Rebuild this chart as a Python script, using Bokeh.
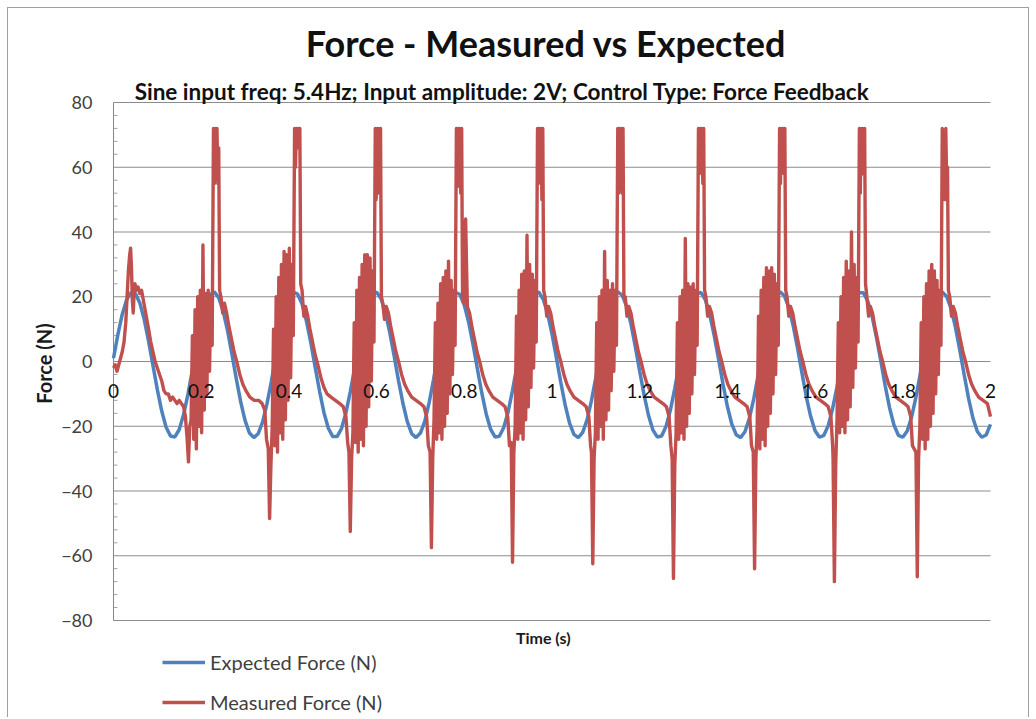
from bokeh.plotting import figure
from bokeh.models import Range1d, FixedTicker, Label, Legend, LegendItem
from bokeh.embed import file_html
from bokeh.resources import INLINE

FONT = "Lato"

# ---------------- data ----------------
title_text = "Force - Measured vs Expected"
subtitle_text = "Sine input freq: 5.4Hz; Input amplitude: 2V; Control Type: Force Feedback"
x_title = "Time (s)"
y_title = "Force (N)"
series_names = ["Expected Force (N)", "Measured Force (N)"]

x_ticks = [0, 0.2, 0.4, 0.6, 0.8, 1.0, 1.2, 1.4, 1.6, 1.8, 2.0]
x_tick_labels = ["0", "0.2", "0.4", "0.6", "0.8", "1", "1.2", "1.4", "1.6", "1.8", "2"]
y_ticks = [-80, -60, -40, -20, 0, 20, 40, 60, 80]

# expected force, sampled every 0.01 s from t = 0 to 2 s
expected_dt = 0.01
expected_v = [
    1.0, 8.3, 14.6, 19.1, 21.3, 21.0, 18.1, 13.0, 6.3, -1.2,
    -8.7, -15.3, -20.3, -23.0, -23.3, -21.0, -16.3, -10.0, -2.6, 5.0,
    11.9, 17.3, 20.6, 21.5, 19.7, 15.6, 9.6, 2.3, -5.3, -12.4,
    -18.2, -22.1, -23.5, -22.3, -18.7, -13.1, -6.1, 1.5, 8.9, 15.0,
    19.4, 21.4, 20.8, 17.8, 12.5, 5.8, -1.8, -9.2, -15.8, -20.6,
    -23.2, -23.2, -20.7, -15.9, -9.4, -2.0, 5.6, 12.4, 17.7, 20.8,
    21.4, 19.5, 15.2, 9.0, 1.7, -5.9, -12.9, -18.6, -22.3, -23.5,
    -22.1, -18.4, -12.6, -5.5, 2.1, 9.4, 15.5, 19.6, 21.4, 20.7,
    17.4, 12.1, 5.2, -2.4, -9.8, -16.2, -20.9, -23.3, -23.1, -20.4,
    -15.5, -8.9, -1.4, 6.1, 12.9, 18.0, 20.9, 21.4, 19.2, 14.8,
    8.5, 1.2, -6.4, -13.4, -19.0, -22.5, -23.5, -21.9, -18.0, -12.1,
    -4.9, 2.7, 9.9, 15.9, 19.9, 21.5, 20.5, 17.1, 11.6, 4.6,
    -3.0, -10.3, -16.6, -21.1, -23.3, -23.0, -20.1, -15.0, -8.3, -0.8,
    6.7, 13.3, 18.3, 21.0, 21.3, 19.0, 14.3, 8.0, 0.6, -7.0,
    -13.9, -19.3, -22.6, -23.5, -21.7, -17.6, -11.6, -4.3, 3.3, 10.4,
    16.2, 20.1, 21.5, 20.3, 16.7, 11.1, 4.1, -3.5, -10.9, -17.0,
    -21.4, -23.4, -22.8, -19.8, -14.5, -7.8, -0.2, 7.2, 13.8, 18.6,
    21.2, 21.2, 18.7, 13.9, 7.4, 0.0, -7.6, -14.4, -19.7, -22.8,
    -23.4, -21.5, -17.2, -11.0, -3.7, 3.9, 10.9, 16.6, 20.3, 21.5,
    20.1, 16.4, 10.6, 3.5, -4.1, -11.4, -17.5, -21.6, -23.4, -22.7,
    -19.4,
]
expected_t = [round(i * expected_dt, 3) for i in range(len(expected_v))]

# measured force (time in s, force in N), one block per cycle
measured_t = [
    0.000, 0.004, 0.008, 0.012, 0.016, 0.020, 0.024, 0.028, 0.031, 0.034, 0.037, 0.039, 0.041, 0.043, 0.045, 0.047, 0.049,
    0.052, 0.056, 0.060, 0.064, 0.068, 0.072, 0.076, 0.080, 0.085, 0.090, 0.095, 0.100, 0.105, 0.110, 0.115, 0.120, 0.125,
    0.130, 0.135, 0.140, 0.145, 0.150, 0.155, 0.160, 0.164,
    0.168, 0.171, 0.174, 0.177, 0.180, 0.183, 0.186, 0.189, 0.192, 0.195, 0.198, 0.201, 0.204, 0.207, 0.210, 0.213, 0.216, 0.219, 0.222, 0.225,
    0.228, 0.230, 0.232, 0.234, 0.236, 0.238, 0.240, 0.242,
    0.245, 0.249, 0.253, 0.258, 0.263, 0.269, 0.275, 0.281, 0.288, 0.295, 0.302, 0.311, 0.321, 0.331, 0.339, 0.345, 0.349,
    0.353, 0.356, 0.359, 0.362, 0.365, 0.368, 0.371, 0.374, 0.377, 0.380, 0.383, 0.386, 0.389, 0.392, 0.395, 0.398, 0.401, 0.404, 0.407, 0.410,
    0.413, 0.415, 0.417, 0.419, 0.421, 0.423, 0.425, 0.427,
    0.430, 0.434, 0.438, 0.443, 0.448, 0.454, 0.460, 0.466, 0.473, 0.480, 0.487, 0.496, 0.506, 0.516, 0.524, 0.530, 0.534,
    0.537, 0.540, 0.543, 0.546, 0.549, 0.552, 0.555, 0.558, 0.561, 0.564, 0.567, 0.570, 0.573, 0.576, 0.579, 0.582, 0.585, 0.588, 0.591, 0.594,
    0.597, 0.599, 0.601, 0.603, 0.605, 0.607, 0.609, 0.611,
    0.614, 0.618, 0.622, 0.627, 0.632, 0.638, 0.644, 0.650, 0.657, 0.664, 0.671, 0.680, 0.690, 0.700, 0.708, 0.714, 0.718,
    0.722, 0.725, 0.728, 0.731, 0.734, 0.737, 0.740, 0.743, 0.746, 0.749, 0.752, 0.755, 0.758, 0.761, 0.764, 0.767, 0.770, 0.773, 0.776, 0.779,
    0.782, 0.784, 0.786, 0.788, 0.790, 0.792, 0.794, 0.796,
    0.799, 0.803, 0.807, 0.812, 0.817, 0.823, 0.829, 0.835, 0.842, 0.849, 0.856, 0.865, 0.875, 0.885, 0.893, 0.899, 0.903,
    0.907, 0.910, 0.913, 0.916, 0.919, 0.922, 0.925, 0.928, 0.931, 0.934, 0.937, 0.940, 0.943, 0.946, 0.949, 0.952, 0.955, 0.958, 0.961, 0.964,
    0.967, 0.969, 0.971, 0.973, 0.975, 0.977, 0.979, 0.981,
    0.984, 0.988, 0.992, 0.997, 1.002, 1.008, 1.014, 1.020, 1.027, 1.034, 1.041, 1.050, 1.060, 1.070, 1.078, 1.084, 1.088,
    1.090, 1.093, 1.096, 1.099, 1.102, 1.105, 1.108, 1.111, 1.114, 1.117, 1.120, 1.123, 1.126, 1.129, 1.132, 1.135, 1.138, 1.141, 1.144, 1.147,
    1.150, 1.152, 1.154, 1.156, 1.158, 1.160, 1.162, 1.164,
    1.167, 1.171, 1.175, 1.180, 1.185, 1.191, 1.197, 1.203, 1.210, 1.217, 1.224, 1.233, 1.243, 1.253, 1.261, 1.267, 1.271,
    1.274, 1.277, 1.280, 1.283, 1.286, 1.289, 1.292, 1.295, 1.298, 1.301, 1.304, 1.307, 1.310, 1.313, 1.316, 1.319, 1.322, 1.325, 1.328, 1.331,
    1.334, 1.336, 1.338, 1.340, 1.342, 1.344, 1.346, 1.348,
    1.351, 1.355, 1.359, 1.364, 1.369, 1.375, 1.381, 1.387, 1.394, 1.401, 1.408, 1.417, 1.427, 1.437, 1.445, 1.451, 1.455,
    1.459, 1.462, 1.465, 1.468, 1.471, 1.474, 1.477, 1.480, 1.483, 1.486, 1.489, 1.492, 1.495, 1.498, 1.501, 1.504, 1.507, 1.510, 1.513, 1.516,
    1.519, 1.521, 1.523, 1.525, 1.527, 1.529, 1.531, 1.533,
    1.536, 1.540, 1.544, 1.549, 1.554, 1.560, 1.566, 1.572, 1.579, 1.586, 1.593, 1.602, 1.612, 1.622, 1.630, 1.636, 1.640,
    1.641, 1.644, 1.647, 1.650, 1.653, 1.656, 1.659, 1.662, 1.665, 1.668, 1.671, 1.674, 1.677, 1.680, 1.683, 1.686, 1.689, 1.692, 1.695, 1.698,
    1.701, 1.703, 1.705, 1.707, 1.709, 1.711, 1.713, 1.715,
    1.718, 1.722, 1.726, 1.731, 1.736, 1.742, 1.748, 1.754, 1.761, 1.768, 1.775, 1.784, 1.794, 1.804, 1.812, 1.818, 1.822,
    1.830, 1.833, 1.836, 1.839, 1.842, 1.845, 1.848, 1.851, 1.854, 1.857, 1.860, 1.863, 1.866, 1.869, 1.872, 1.875, 1.878, 1.881, 1.884, 1.887,
    1.890, 1.892, 1.894, 1.896, 1.898, 1.900, 1.902, 1.904,
    1.907, 1.911, 1.915, 1.920, 1.925, 1.931, 1.937, 1.943, 1.950, 1.957, 1.964, 1.973, 1.983, 1.993, 2.000,
]
measured_v = [
    -2, -1, -3, -1, 1, 3, 6, 12, 20, 28, 33, 35, 29, 19, 15, 21, 24,
    22, 23, 21, 22, 19, 16, 13, 10, 6, 3, 0, -2, -4, -6, -9, -10, -10,
    -12, -11, -12, -13, -12, -13, -14, -17,
    -24, -31, -20, -18, 8, -24, 16, -27, 20, -20, 22, -22, 36, -15, 21, -10, 22, -3, 20, 5,
    72, 55, 72, 58, 72, 55, 66, 22,
    20, 15, 18, 15, 11, 7, 3, 0, -4, -7, -9, -11, -12, -12, -13, -15, -24,
    -27, -48.5, -32, -20, 10, -26, 20, -28, 26, -22, 30, -24, 34, -18, 33, -12, 35, -5, 30, 8,
    72, 60, 72, 66, 72, 68, 72, 24,
    22, 14, 17, 14, 10, 6, 2, -1, -5, -8, -10, -11, -12, -13, -14, -17, -25,
    -28, -52.5, -30, -22, 12, -25, 22, -28, 26, -24, 30, -26, 33, -20, 33, -14, 32, -6, 28, 6,
    72, 50, 72, 52, 72, 55, 72, 20,
    18, 13, 17, 15, 11, 7, 3, 0, -4, -7, -9, -11, -12, -13, -14, -17, -26,
    -28, -57.5, -30, -18, 12, -24, 18, -22, 24, -24, 26, -20, 28, -16, 31, -10, 25, -4, 22, 5,
    72, 54, 72, 58, 72, 52, 72, 20,
    18, 44, 17, 15, 11, 7, 3, 0, -4, -7, -9, -11, -12, -13, -14, -17, -26,
    -25, -62, -28, -20, 14, -24, 22, -22, 27, -24, 28, -18, 39, -14, 30, -8, 27, -2, 25, 6,
    72, 55, 72, 60, 72, 50, 72, 22,
    20, 14, 17, 15, 11, 7, 3, 0, -4, -7, -9, -11, -12, -13, -14, -17, -26,
    -28, -62.5, -30, -22, 12, -24, 20, -20, 22, -24, 34, -18, 25, -15, 22, -9, 24, -3, 22, 5,
    72, 52, 72, 56, 72, 52, 72, 20,
    20, 14, 17, 15, 11, 7, 3, 0, -4, -7, -9, -11, -12, -13, -14, -17, -26,
    -30, -67, -32, -22, 12, -24, 20, -22, 22, -24, 38, -20, 24, -16, 23, -10, 24, -4, 22, 5,
    72, 58, 72, 60, 72, 55, 72, 22,
    20, 14, 17, 15, 11, 7, 3, 0, -4, -7, -9, -11, -12, -13, -14, -17, -26,
    -28, -64, -30, -20, 14, -27, 22, -24, 26, -26, 29, -20, 28, -16, 29, -10, 27, -4, 24, 5,
    72, 55, 72, 62, 72, 58, 72, 22,
    20, 14, 17, 15, 11, 7, 3, 0, -4, -7, -9, -11, -12, -13, -14, -17, -26,
    -30, -68, -32, -18, 12, -22, 20, -20, 26, -22, 31, -18, 28, -14, 40, -8, 30, -2, 26, 6,
    72, 52, 72, 58, 72, 60, 72, 24,
    20, 14, 17, 15, 11, 7, 3, 0, -4, -7, -9, -11, -12, -13, -14, -17, -26,
    -28, -66.5, -30, -20, 12, -24, 20, -27, 24, -24, 28, -20, 30, -16, 28, -10, 25, -4, 22, 5,
    72, 52, 62, 50, 72, 55, 60, 22,
    20, 14, 17, 15, 11, 7, 3, 0, -4, -7, -9, -11, -12, -13, -17,
]
assert len(measured_t) == len(measured_v), (len(measured_t), len(measured_v))

# ---------------- figure ----------------
# plot frame covers the whole chart area so that titles, tick labels and
# legend (which sit outside the data rectangle) are not clipped
X0, X1 = x_ticks[0], x_ticks[-1]
Y0, Y1 = y_ticks[0], y_ticks[-1]
p = figure(
    width=1022, height=710,
    x_range=Range1d(-0.0205, 2.0228), y_range=Range1d(-110.27, 109.035),
    output_backend="svg", toolbar_location=None,
    x_axis_location=None, y_axis_location="left",
    min_border_left=96, min_border_right=30, min_border_top=0, min_border_bottom=0,
)
p.styles = {"margin-left": "7px", "margin-top": "7px",
            "border-left": "1px solid #a0a0a0", "border-top": "1px solid #a0a0a0",
            "border-right": "1px solid #a0a0a0"}
p.outline_line_color = None
p.background_fill_color = "white"
p.border_fill_color = "white"
p.xgrid.grid_line_color = None
p.ygrid.grid_line_color = None

yax = p.yaxis[0]
yax.ticker = FixedTicker(ticks=y_ticks, minor_ticks=[])
yax.axis_line_color = None
yax.major_tick_line_color = None
yax.minor_tick_line_color = None
yax.major_tick_in = 0
yax.major_tick_out = 0
yax.major_label_standoff = 12
yax.major_label_text_font = FONT
yax.major_label_text_font_size = "18px"
yax.major_label_text_color = "#404040"
yax.axis_label = y_title
yax.axis_label_text_font = FONT
yax.axis_label_text_font_style = "bold"
yax.axis_label_text_font_size = "20px"
yax.axis_label_text_color = "#1a1a1a"
yax.axis_label_standoff = 2

# horizontal gridlines across the data rectangle
p.segment(x0=[X0] * len(y_ticks), x1=[X1] * len(y_ticks), y0=y_ticks, y1=y_ticks,
          line_color="#8c8c8c", line_width=1)
# vertical value axis at t = 0 with small inside minor ticks
p.segment(x0=[X0], x1=[X0], y0=[Y0], y1=[Y1], line_color="#868686", line_width=1)
y_minor = [v for v in range(Y0, Y1 + 1, 4) if v % 20]
p.segment(x0=[X0] * len(y_minor), x1=[X0 + 0.009] * len(y_minor), y0=y_minor, y1=y_minor,
          line_color="#a0a0a0", line_width=1)

r_exp = p.line(expected_t, expected_v, line_color="#4f81bd", line_width=3.5)
r_meas = p.line(measured_t, measured_v, line_color="#c0504d", line_width=3.4, line_join="round")

# time tick labels sit next to the zero line (axis crossing at 0)
for xt, lab in zip(x_ticks, x_tick_labels):
    p.add_layout(Label(x=xt, y=0, text=lab, text_align="center", text_baseline="middle",
                       y_offset=-29, text_font=FONT, text_font_size="19px", text_color="#111111"))

p.add_layout(Label(x=0.98, y=Y0, text=x_title, text_align="center", text_baseline="middle",
                   y_offset=-17, text_font=FONT, text_font_style="bold", text_font_size="16px",
                   text_color="#1a1a1a"))

p.add_layout(Label(x=1.0, y=Y1, text=title_text, text_align="center", text_baseline="middle",
                   x_offset=-6, y_offset=60, text_font=FONT, text_font_style="bold",
                   text_font_size="36px", text_color="#111111"))
p.add_layout(Label(x=1.0, y=Y1, text=subtitle_text, text_align="center", text_baseline="middle",
                   x_offset=-50, y_offset=11, text_font=FONT, text_font_style="bold",
                   text_font_size="22.5px", text_color="#111111"))

legend = Legend(
    items=[LegendItem(label=series_names[0], renderers=[r_exp]),
           LegendItem(label=series_names[1], renderers=[r_meas])],
    location=(58, 4), orientation="vertical",
    border_line_color=None, background_fill_alpha=0,
    padding=0, margin=0, spacing=16,
    label_height=24, glyph_height=24, glyph_width=43, label_standoff=5,
    label_text_font=FONT, label_text_font_size="20px", label_text_color="#404040",
)
p.add_layout(legend)

open("out.html", "w").write(file_html(p, INLINE))
